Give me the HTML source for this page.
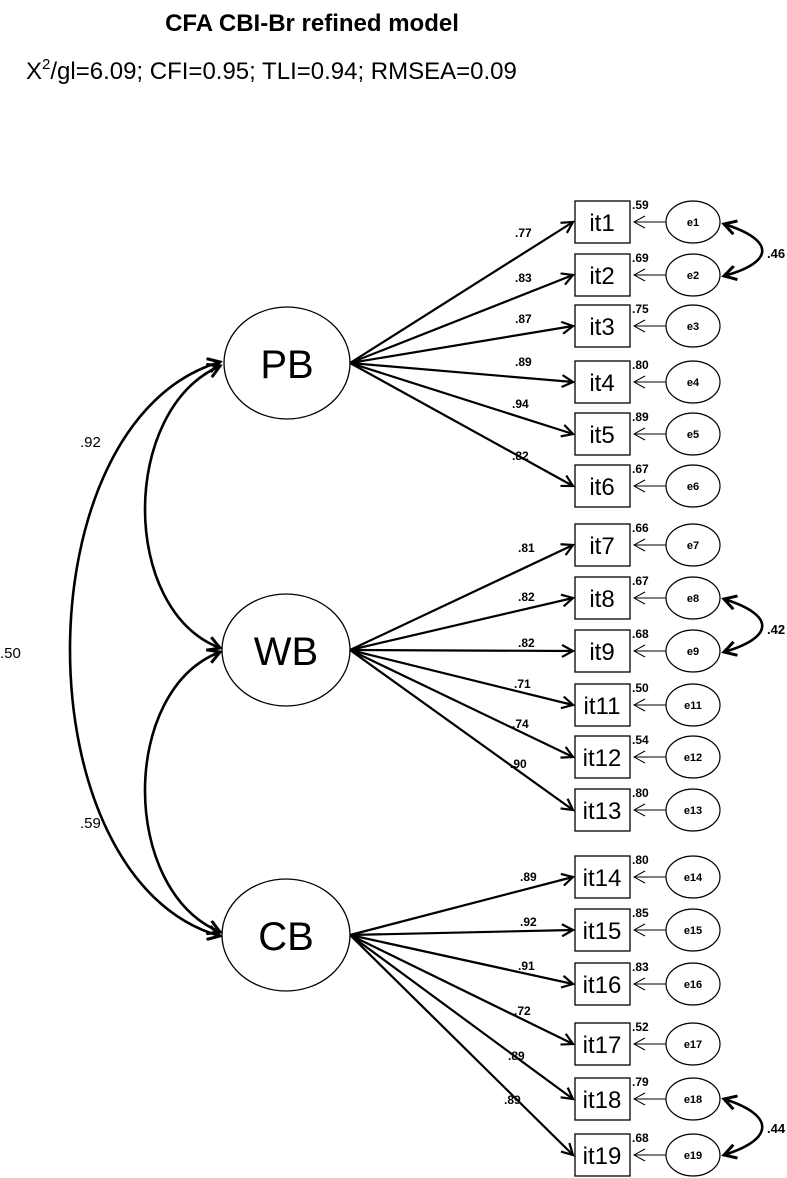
<!DOCTYPE html>
<html><head><meta charset="utf-8"><style>
html,body{margin:0;padding:0;background:#fff;}
svg{display:block;font-family:"Liberation Sans",sans-serif;}
</style></head><body>
<svg width="787" height="1178" viewBox="0 0 787 1178" xmlns="http://www.w3.org/2000/svg">
<defs>
<marker id="ah" markerWidth="14" markerHeight="14" refX="12" refY="7" orient="auto" markerUnits="userSpaceOnUse">
<path d="M1,1 L12,7 L1,13" fill="none" stroke="#000" stroke-width="2.2"/>
</marker>
<marker id="ahs" markerWidth="14" markerHeight="14" refX="12" refY="7" orient="auto" markerUnits="userSpaceOnUse">
<path d="M1,1 L12,7 L1,13" fill="none" stroke="#000" stroke-width="1"/>
</marker>
<marker id="ahb" markerWidth="16" markerHeight="16" refX="13" refY="8" orient="auto-start-reverse" markerUnits="userSpaceOnUse">
<path d="M1,1 L13,8 L1,15" fill="none" stroke="#000" stroke-width="3"/>
</marker>
</defs>
<text x="312" y="31" text-anchor="middle" font-size="24" font-weight="bold">CFA CBI-Br refined model</text>
<text x="26" y="79" font-size="24">X<tspan font-size="15" dy="-10">2</tspan><tspan dy="10">/gl=6.09; CFI=0.95; TLI=0.94; RMSEA=0.09</tspan></text>

<g fill="none" stroke="#000" stroke-width="1.3">
<ellipse cx="287" cy="363" rx="63" ry="56"/>
<ellipse cx="286" cy="650" rx="64" ry="56"/>
<ellipse cx="286" cy="935" rx="64" ry="56"/>
</g>
<g font-size="40" text-anchor="middle">
<text x="287" y="378">PB</text>
<text x="286" y="665">WB</text>
<text x="286" y="950">CB</text>
</g>

<g fill="none" stroke="#000" stroke-width="2.6">
<path d="M220,366 C120,410 120,610 220,648" marker-start="url(#ahb)" marker-end="url(#ahb)"/>
<path d="M220,652 C120,690 120,890 220,932" marker-start="url(#ahb)" marker-end="url(#ahb)"/>
<path d="M220,362 C20,420 20,880 220,936" marker-start="url(#ahb)" marker-end="url(#ahb)"/>
<path d="M724,224 C775,240 775,262 724,276" marker-start="url(#ahb)" marker-end="url(#ahb)"/>
<path d="M724,599 C775,615 775,637 724,652" marker-start="url(#ahb)" marker-end="url(#ahb)"/>
<path d="M724,1099 C775,1115 775,1139 724,1155" marker-start="url(#ahb)" marker-end="url(#ahb)"/>
</g>
<g font-size="15">
<text x="80" y="447">.92</text>
<text x="80" y="828">.59</text>
<text x="0" y="658">.50</text>
<text x="767" y="258" font-size="13" font-weight="bold">.46</text>
<text x="767" y="634" font-size="13" font-weight="bold">.42</text>
<text x="767" y="1133" font-size="13" font-weight="bold">.44</text>
</g>

<g stroke="#000" stroke-width="2.2" marker-end="url(#ah)">
<line x1="350" y1="363" x2="573" y2="222"/>
<line x1="350" y1="363" x2="573" y2="275"/>
<line x1="350" y1="363" x2="573" y2="326"/>
<line x1="350" y1="363" x2="573" y2="382"/>
<line x1="350" y1="363" x2="573" y2="434"/>
<line x1="350" y1="363" x2="573" y2="486"/>
<line x1="350" y1="650" x2="573" y2="545"/>
<line x1="350" y1="650" x2="573" y2="598"/>
<line x1="350" y1="650" x2="573" y2="651"/>
<line x1="350" y1="650" x2="573" y2="705"/>
<line x1="350" y1="650" x2="573" y2="757"/>
<line x1="350" y1="650" x2="573" y2="810"/>
<line x1="350" y1="935" x2="573" y2="877"/>
<line x1="350" y1="935" x2="573" y2="930"/>
<line x1="350" y1="935" x2="573" y2="984"/>
<line x1="350" y1="935" x2="573" y2="1044"/>
<line x1="350" y1="935" x2="573" y2="1099"/>
<line x1="350" y1="935" x2="573" y2="1155"/>
</g>
<g font-size="12" font-weight="bold">
<text x="515" y="237">.77</text>
<text x="515" y="282">.83</text>
<text x="515" y="323">.87</text>
<text x="515" y="366">.89</text>
<text x="512" y="408">.94</text>
<text x="512" y="460">.82</text>
<text x="518" y="552">.81</text>
<text x="518" y="601">.82</text>
<text x="518" y="647">.82</text>
<text x="514" y="688">.71</text>
<text x="512" y="728">.74</text>
<text x="510" y="768">.90</text>
<text x="520" y="881">.89</text>
<text x="520" y="926">.92</text>
<text x="518" y="970">.91</text>
<text x="514" y="1015">.72</text>
<text x="508" y="1060">.89</text>
<text x="504" y="1104">.89</text>
</g>

<g fill="none" stroke="#000" stroke-width="1.3">
<rect x="575" y="201" width="55" height="42"/>
<rect x="575" y="254" width="55" height="42"/>
<rect x="575" y="305" width="55" height="42"/>
<rect x="575" y="361" width="55" height="42"/>
<rect x="575" y="413" width="55" height="42"/>
<rect x="575" y="465" width="55" height="42"/>
<rect x="575" y="524" width="55" height="42"/>
<rect x="575" y="577" width="55" height="42"/>
<rect x="575" y="630" width="55" height="42"/>
<rect x="575" y="684" width="55" height="42"/>
<rect x="575" y="736" width="55" height="42"/>
<rect x="575" y="789" width="55" height="42"/>
<rect x="575" y="856" width="55" height="42"/>
<rect x="575" y="909" width="55" height="42"/>
<rect x="575" y="963" width="55" height="42"/>
<rect x="575" y="1023" width="55" height="42"/>
<rect x="575" y="1078" width="55" height="42"/>
<rect x="575" y="1134" width="55" height="42"/>
</g>
<g font-size="24" text-anchor="middle">
<text x="602" y="231">it1</text>
<text x="602" y="284">it2</text>
<text x="602" y="335">it3</text>
<text x="602" y="391">it4</text>
<text x="602" y="443">it5</text>
<text x="602" y="495">it6</text>
<text x="602" y="554">it7</text>
<text x="602" y="607">it8</text>
<text x="602" y="660">it9</text>
<text x="602" y="714">it11</text>
<text x="602" y="766">it12</text>
<text x="602" y="819">it13</text>
<text x="602" y="886">it14</text>
<text x="602" y="939">it15</text>
<text x="602" y="993">it16</text>
<text x="602" y="1053">it17</text>
<text x="602" y="1108">it18</text>
<text x="602" y="1164">it19</text>
</g>
<g font-size="12" font-weight="bold">
<text x="632" y="209">.59</text>
<text x="632" y="262">.69</text>
<text x="632" y="313">.75</text>
<text x="632" y="369">.80</text>
<text x="632" y="421">.89</text>
<text x="632" y="473">.67</text>
<text x="632" y="532">.66</text>
<text x="632" y="585">.67</text>
<text x="632" y="638">.68</text>
<text x="632" y="692">.50</text>
<text x="632" y="744">.54</text>
<text x="632" y="797">.80</text>
<text x="632" y="864">.80</text>
<text x="632" y="917">.85</text>
<text x="632" y="971">.83</text>
<text x="632" y="1031">.52</text>
<text x="632" y="1086">.79</text>
<text x="632" y="1142">.68</text>
</g>

<g stroke="#000" stroke-width="1" marker-end="url(#ahs)">
<line x1="666" y1="222" x2="634" y2="222"/>
<line x1="666" y1="275" x2="634" y2="275"/>
<line x1="666" y1="326" x2="634" y2="326"/>
<line x1="666" y1="382" x2="634" y2="382"/>
<line x1="666" y1="434" x2="634" y2="434"/>
<line x1="666" y1="486" x2="634" y2="486"/>
<line x1="666" y1="545" x2="634" y2="545"/>
<line x1="666" y1="598" x2="634" y2="598"/>
<line x1="666" y1="651" x2="634" y2="651"/>
<line x1="666" y1="705" x2="634" y2="705"/>
<line x1="666" y1="757" x2="634" y2="757"/>
<line x1="666" y1="810" x2="634" y2="810"/>
<line x1="666" y1="877" x2="634" y2="877"/>
<line x1="666" y1="930" x2="634" y2="930"/>
<line x1="666" y1="984" x2="634" y2="984"/>
<line x1="666" y1="1044" x2="634" y2="1044"/>
<line x1="666" y1="1099" x2="634" y2="1099"/>
<line x1="666" y1="1155" x2="634" y2="1155"/>
</g>
<g fill="none" stroke="#000" stroke-width="1.2">
<ellipse cx="693" cy="222" rx="27" ry="21"/>
<ellipse cx="693" cy="275" rx="27" ry="21"/>
<ellipse cx="693" cy="326" rx="27" ry="21"/>
<ellipse cx="693" cy="382" rx="27" ry="21"/>
<ellipse cx="693" cy="434" rx="27" ry="21"/>
<ellipse cx="693" cy="486" rx="27" ry="21"/>
<ellipse cx="693" cy="545" rx="27" ry="21"/>
<ellipse cx="693" cy="598" rx="27" ry="21"/>
<ellipse cx="693" cy="651" rx="27" ry="21"/>
<ellipse cx="693" cy="705" rx="27" ry="21"/>
<ellipse cx="693" cy="757" rx="27" ry="21"/>
<ellipse cx="693" cy="810" rx="27" ry="21"/>
<ellipse cx="693" cy="877" rx="27" ry="21"/>
<ellipse cx="693" cy="930" rx="27" ry="21"/>
<ellipse cx="693" cy="984" rx="27" ry="21"/>
<ellipse cx="693" cy="1044" rx="27" ry="21"/>
<ellipse cx="693" cy="1099" rx="27" ry="21"/>
<ellipse cx="693" cy="1155" rx="27" ry="21"/>
</g>
<g font-size="11" font-weight="bold" text-anchor="middle">
<text x="693" y="226">e1</text>
<text x="693" y="279">e2</text>
<text x="693" y="330">e3</text>
<text x="693" y="386">e4</text>
<text x="693" y="438">e5</text>
<text x="693" y="490">e6</text>
<text x="693" y="549">e7</text>
<text x="693" y="602">e8</text>
<text x="693" y="655">e9</text>
<text x="693" y="709">e11</text>
<text x="693" y="761">e12</text>
<text x="693" y="814">e13</text>
<text x="693" y="881">e14</text>
<text x="693" y="934">e15</text>
<text x="693" y="988">e16</text>
<text x="693" y="1048">e17</text>
<text x="693" y="1103">e18</text>
<text x="693" y="1159">e19</text>
</g>
</svg>
</body></html>
